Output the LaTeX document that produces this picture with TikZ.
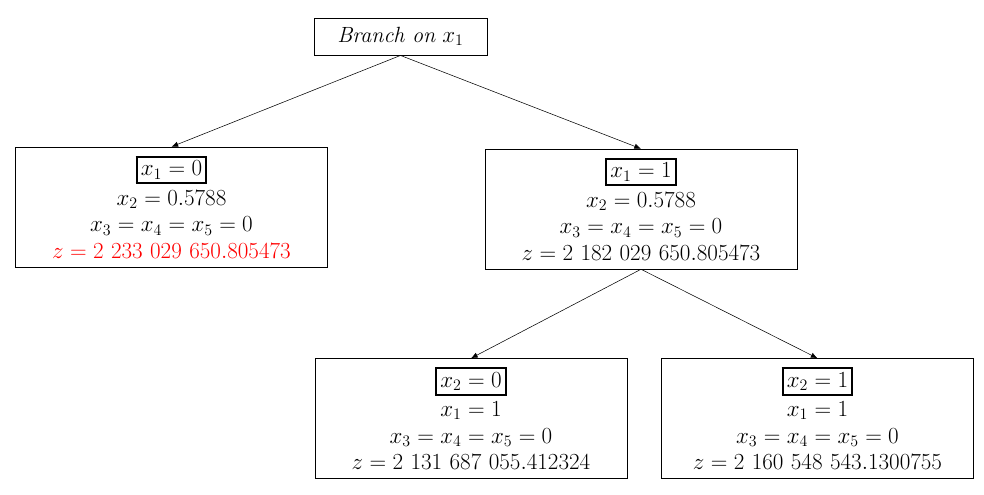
\documentclass[tikz,border=0pt]{standalone}
\usepackage{xcolor}
\usepackage{tikz}
\usetikzlibrary{positioning}
\usetikzlibrary{arrows.meta}
\usepackage{amsmath}
\setlength{\fboxrule}{1.4pt}
\setlength{\fboxsep}{2.5pt}

\begin{document}
\begin{tikzpicture}[x=0.75pt, y=-0.75pt]
		% ------- style -------
		\tikzset{%
			branchbox/.style={%
				draw, thin, align=center, inner sep=0pt,
				minimum width=234pt, minimum height=90pt,
				font=\fontsize{18.5}{20}\selectfont,
			},
			rootbox/.style={%
				draw, thin, minimum width=130pt, minimum height=28pt,
				font=\fontsize{16.5}{19}\selectfont,
			},
			branch/.style={-{Latex[length=5pt, width=4pt]}, thin},
		}
		\useasboundingbox (0,0) rectangle (984,494);
		
		% ------- tree -------
		\node[rootbox] (root) at (400.5,36.5) {\textit{Branch on} $x_1$};
		
		\node[branchbox] (x1-0) at (171.5,207) {%
			\fbox{$x_1 = 0$}\\[2pt]
			$x_2 = 0.5788$\\
			$x_3 = x_4 = x_5 = 0$\\
			\color{red}$z = 2\ 233\ 029\ 650.805473$};
		
		\node[branchbox] (x1-1) at (641,209) {%
			\fbox{$x_1 = 1$}\\[2pt]
			$x_2 = 0.5788$\\
			$x_3 = x_4 = x_5 = 0$\\
			$z = 2\ 182\ 029\ 650.805473$};
		
		\node[branchbox] (x2-0) at (471,418.5) {%
			\fbox{$x_2 = 0$}\\[2pt]
			$x_1 = 1$\\
			$x_3 = x_4 = x_5 = 0$\\
			$z = 2\ 131\ 687\ 055.412324$};
		
		\node[branchbox] (x2-1) at (817.5,418.5) {%
			\fbox{$x_2 = 1$}\\[2pt]
			$x_1 = 1$\\
			$x_3 = x_4 = x_5 = 0$\\
			$z = 2\ 160\ 548\ 543.1300755$};
		
		% ------- branches -------
		\draw[branch] (root.south) -- (x1-0.north);
		\draw[branch] (root.south) -- (x1-1.north);
		\draw[branch] (x1-1.south) -- (x2-0.north);
		\draw[branch] (x1-1.south) -- (x2-1.north);
	\end{tikzpicture}
\end{document}
